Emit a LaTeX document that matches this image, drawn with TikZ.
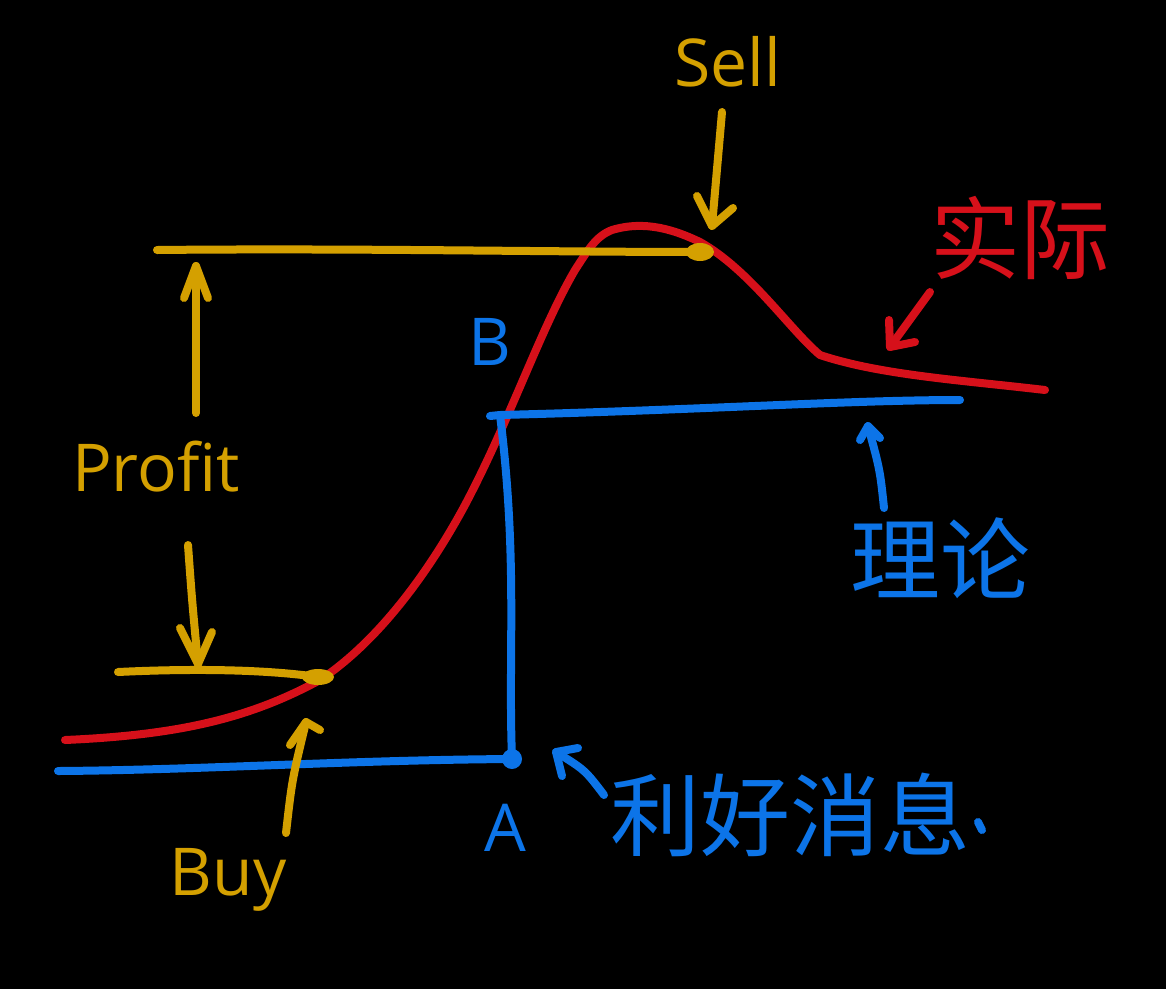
\documentclass[tikz,border=0pt]{standalone}
\usepackage{fontspec}
\setmainfont{Open Sans}
\newfontfamily\cjk{Noto Sans CJK SC}
\begin{document}
\begin{tikzpicture}[x=1pt,y=-1pt,
  pen/.style={line width=8pt,line cap=round,line join=round},
  gold/.style={pen,draw=goldc},
  blu/.style={pen,draw=bluec},
  rd/.style={pen,draw=redc},
  lbl/.style={inner sep=0pt,font=\fontsize{66}{72}\selectfont},
  clbl/.style={inner sep=0pt,font=\cjk\fontsize{90}{96}\selectfont}]
\definecolor{goldc}{RGB}{212,160,0}
\definecolor{bluec}{RGB}{12,116,232}
\definecolor{redc}{RGB}{214,16,26}
\fill[black] (0,0) rectangle (1166,989);
\useasboundingbox (0,0) rectangle (1166,989);

% coordinates
\coordinate (ytl) at (157,250);
\coordinate (sellpt) at (700,252);
\coordinate (ybl) at (118,672);
\coordinate (buypt) at (318,677);
\coordinate (bl) at (58,771);
\coordinate (A) at (512,759);
\coordinate (Bc) at (500,415);
\coordinate (tr) at (960,400);

% red actual curve
\draw[rd] (65,740) .. controls (180,735) and (250,718) .. (320,680)
  .. controls (380,640) and (430,570) .. (465,505)
  .. controls (510,420) and (540,330) .. (575,270)
  .. controls (588,250) and (596,236) .. (612,230)
  .. controls (645,220) and (675,230) .. (700,242)
  .. controls (750,270) and (790,330) .. (820,355)
  .. controls (880,375) and (960,380) .. (1045,390);

% gold lines
\draw[gold] (ytl) .. controls (350,248) and (550,252) .. (sellpt);
\fill[goldc] (sellpt) ellipse (14pt and 9pt);
\draw[gold] (ybl) .. controls (200,668) and (270,670) .. (buypt);
\fill[goldc] (buypt) ellipse (16pt and 8pt);

% blue lines
\draw[blu] (bl) .. controls (200,770) and (350,760) .. (A);
\fill[bluec] (A) circle (10pt);
\draw[blu] (A) .. controls (508,650) and (518,560) .. (Bc);
\draw[blu] (490,416) -- (Bc) .. controls (700,410) and (850,400) .. (tr);

% labels
\node[lbl,text=goldc] (sell) at (728,62) {Sell};
\node[lbl,text=goldc] (profit) at (156,467) {Profit};
\node[lbl,text=goldc] (buy) at (228,880) {Buy};
\node[lbl,text=bluec] (blab) at (490,342) {B};
\node[lbl,text=bluec] (alab) at (505,828) {A};
\node[clbl,text=redc] (shiji) at (1020,238) {实际};
\node[clbl,text=bluec] (lilun) at (940,558) {理论};
\node[clbl,text=bluec] (news) at (790,815) {利好消息};
\draw[blu] (978,822) -- (982,830);

% arrows
\coordinate (sellA) at (722,112);
\coordinate (sellH) at (712,226);
\draw[gold] (sellA) -- (sellH);
\draw[gold] (697,196) -- (sellH) -- (733,208);

\coordinate (pUpA) at (196,413);
\coordinate (pUpH) at (196,266);
\draw[gold] (pUpA) -- (pUpH);
\draw[gold] (184,298) -- (pUpH) -- (208,298);

\coordinate (pDnA) at (188,545);
\coordinate (pDnH) at (198,664);
\draw[gold] (pDnA) .. controls (192,600) .. (pDnH);
\draw[gold] (180,628) -- (pDnH) -- (212,632);

\coordinate (buyA) at (286,833);
\coordinate (buyH) at (306,722);
\draw[gold] (buyA) .. controls (292,780) .. (buyH);
\draw[gold] (290,745) -- (buyH) -- (320,730);

\coordinate (aA) at (604,795);
\coordinate (aH) at (556,752);
\draw[blu] (aA) .. controls (585,770) .. (aH);
\draw[blu] (562,776) -- (aH) -- (578,748);

\coordinate (tA) at (884,508);
\coordinate (tH) at (868,426);
\draw[blu] (tA) .. controls (880,470) .. (tH);
\draw[blu] (860,440) -- (tH) -- (880,438);

\coordinate (rA) at (930,292);
\coordinate (rH) at (890,347);
\draw[rd] (rA) -- (rH);
\draw[rd] (889,320) -- (rH) -- (915,342);
\end{tikzpicture}
\end{document}
